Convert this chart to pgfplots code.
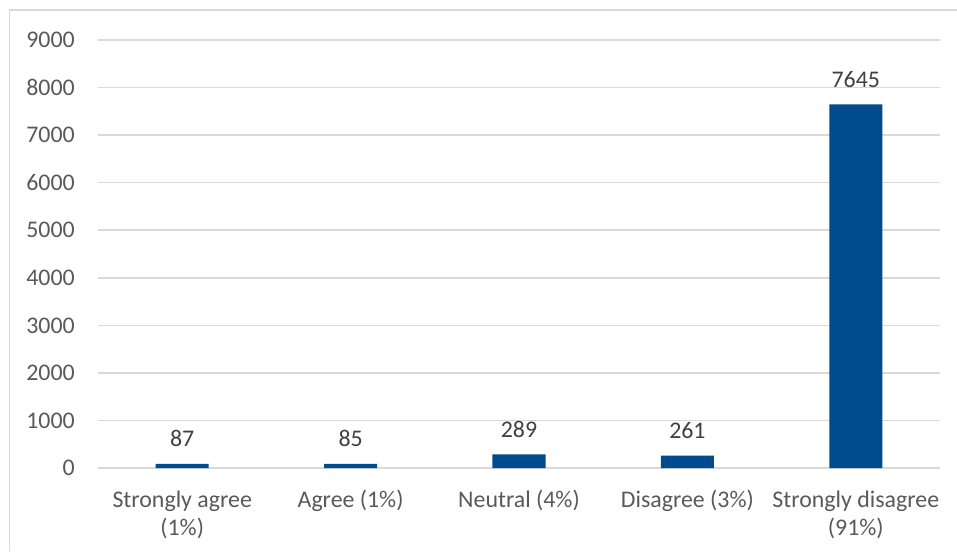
\documentclass[border=0pt]{standalone}
\usepackage{pgfplots}
\pgfplotsset{compat=1.18}
\usepackage{fontspec}
\setmainfont{Carlito}
\definecolor{barc}{HTML}{004B8D}
\definecolor{txt}{HTML}{595959}
\definecolor{lbl}{HTML}{404040}
\definecolor{gridc}{HTML}{D9D9D9}
\begin{document}
\begin{tikzpicture}
\useasboundingbox (0,0) rectangle (717.75pt,413.25pt);
\draw[gridc, line width=1.1pt] (7.1pt,0) -- (7.1pt,405.9pt) -- (717.75pt,405.9pt);
\begin{axis}[
  at={(73.5pt,62.25pt)}, anchor=south west,
  scale only axis, width=631.5pt, height=321pt,
  ybar, bar width=39.75pt,
  xmin=-0.5, xmax=4.5, ymin=0, ymax=9000,
  xtick={0,1,2,3,4},
  xticklabels={{\strut Strongly agree\\(1\%)},{\strut Agree (1\%)},{\strut Neutral (4\%)},{\strut Disagree (3\%)},{\strut Strongly disagree\\(91\%)}},
  ytick={0,1000,...,9000},
  major tick length=0pt,
  axis line style={draw=none},
  ymajorgrids, grid style={gridc, line width=1.1pt},
  scaled y ticks=false,
  /pgf/number format/assume math mode=true,
  /pgf/number format/1000 sep={},
  yticklabel={\pgfmathprintnumber[fixed,1000 sep={}]{\tick}},
  tick label style={font=\fontsize{17.9}{21}\selectfont, text=txt},
  xticklabel style={align=center, anchor=north, inner sep=0pt, yshift=-14.5pt},
  yticklabel style={anchor=east, inner sep=0pt, xshift=-17.25pt},
  nodes near coords={\pgfmathprintnumber[fixed,1000 sep={}]{\pgfplotspointmeta}},
  nodes near coords style={font=\fontsize{17.9}{21}\selectfont, text=lbl, anchor=base, inner sep=0pt, yshift=12.75pt},
  clip=false,
]
\addplot[fill=barc, draw=none] coordinates {(0,87) (1,85) (2,289) (3,261) (4,7645)};
\end{axis}
\end{tikzpicture}
\end{document}
